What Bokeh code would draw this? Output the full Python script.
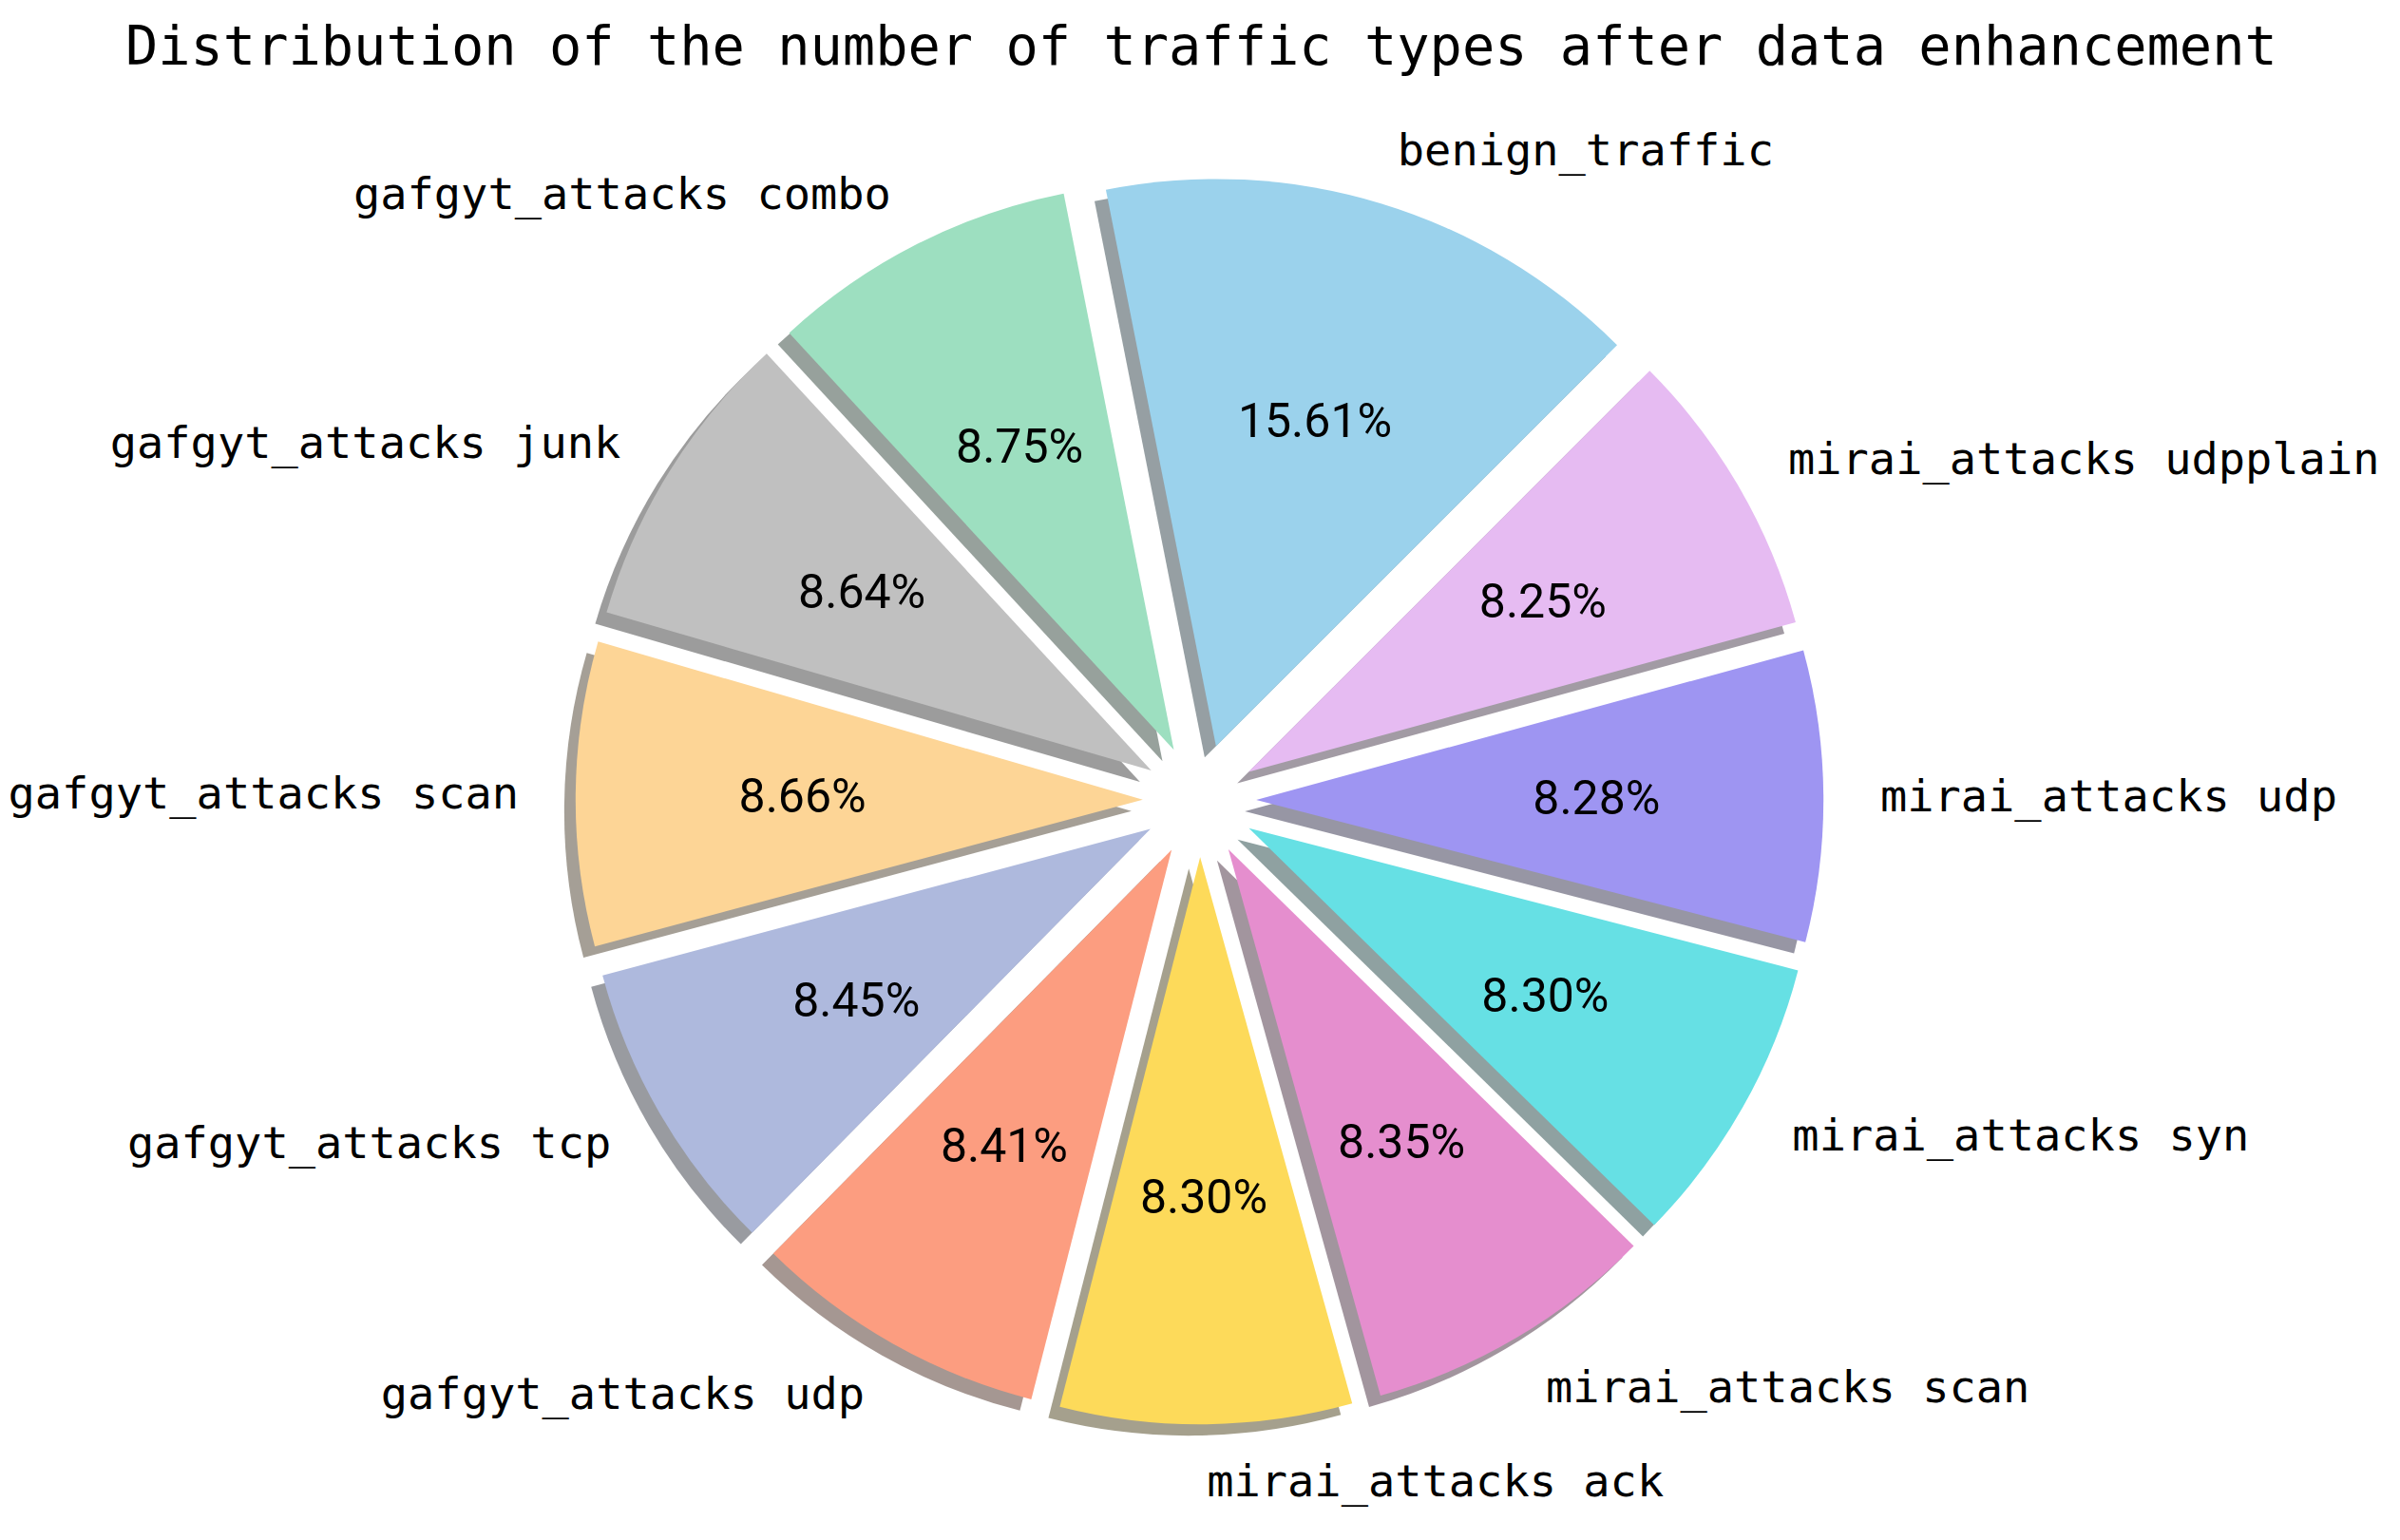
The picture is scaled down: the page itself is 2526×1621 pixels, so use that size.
import numpy as np
from bokeh.plotting import figure
from bokeh.models import Range1d, ColumnDataSource
from bokeh.core.properties import value
from bokeh.embed import file_html
from bokeh.resources import INLINE

# ---- data ----
title_text = "Distribution of the number of  traffic types after data enhancement"
categories = [
    "benign_traffic",
    "gafgyt_attacks combo",
    "gafgyt_attacks junk",
    "gafgyt_attacks scan",
    "gafgyt_attacks tcp",
    "gafgyt_attacks udp",
    "mirai_attacks ack",
    "mirai_attacks scan",
    "mirai_attacks syn",
    "mirai_attacks udp",
    "mirai_attacks udpplain",
]
percentages = [15.61, 8.75, 8.64, 8.66, 8.45, 8.41, 8.30, 8.35, 8.30, 8.28, 8.25]
colors = [
    "#9BD2EC", "#9DDFC0", "#C0C0C0", "#FDD596", "#AEB9DD", "#FC9D80",
    "#FDDA5A", "#E58ECE", "#66E0E4", "#9E95F2", "#E6BBF2",
]

# ---- layout (reference pixel space) ----
W, H = 2510, 1605
p = figure(width=W, height=H,
           x_range=Range1d(8, 8 + W), y_range=Range1d(8, 8 + H),
           output_backend="svg", toolbar_location=None, min_border=0,
           x_axis_location=None, y_axis_location=None)
p.grid.visible = False
p.outline_line_color = None
p.background_fill_color = "white"
p.border_fill_color = "white"

TOTAL_H = 1621
cx, cy = 1270.0, TOTAL_H - 850.0
R = 597.0
explode = 0.1 * R
shadow_off = 0.02 * R
start_deg = 45.0

vals = np.array(percentages, dtype=float)
fr = vals / vals.sum()
cum = np.concatenate([[0.0], np.cumsum(fr)[:-1]])
a0 = np.radians(start_deg + 360.0 * cum)
a1 = np.radians(start_deg + 360.0 * (cum + fr))
am = (a0 + a1) / 2.0
ex = cx + explode * np.cos(am)
ey = cy + explode * np.sin(am)

def hex2rgb(h):
    h = h.lstrip("#")
    return tuple(int(h[i:i + 2], 16) for i in (0, 2, 4))

shadow_cols = ["#%02x%02x%02x" % tuple(int(round(0.3 * c)) for c in hex2rgb(col)) for col in colors]

src = ColumnDataSource(dict(
    x=ex, y=ey, sx=ex - shadow_off, sy=ey - shadow_off,
    a0=a0, a1=a1, color=colors, scolor=shadow_cols,
))

# shadows (below all wedges)
p.wedge(x="sx", y="sy", radius=R, start_angle="a0", end_angle="a1",
        fill_color="scolor", fill_alpha=0.5, line_color=None, source=src)
# wedges
p.wedge(x="x", y="y", radius=R, start_angle="a0", end_angle="a1",
        fill_color="color", line_color=None, source=src)

# percentage labels
pct_txt = ["%.2f%%" % v for v in percentages]
p.text(x=ex + 0.6 * R * np.cos(am), y=ey + 0.6 * R * np.sin(am), text=pct_txt,
       text_font=value("Roboto"), text_font_size="50px", text_color="black",
       text_align="center", text_baseline="middle")

# category labels
lx = ex + 1.1 * R * np.cos(am)
ly = ey + 1.1 * R * np.sin(am)
right = np.cos(am) > 0
cats = np.array(categories)
p.text(x=lx[right], y=ly[right], text=list(cats[right]),
       text_font=value("DejaVu Sans Mono"), text_font_size="47px", text_color="black",
       text_align="left", text_baseline="middle")
p.text(x=lx[~right], y=ly[~right], text=list(cats[~right]),
       text_font=value("DejaVu Sans Mono"), text_font_size="47px", text_color="black",
       text_align="right", text_baseline="middle")

# title
p.text(x=[1289], y=[TOTAL_H - 55], text=[title_text],
       text_font=value("DejaVu Sans Mono"), text_font_size="57px", text_color="black",
       text_align="center", text_baseline="middle")

open("out.html", "w").write(file_html(p, INLINE))
